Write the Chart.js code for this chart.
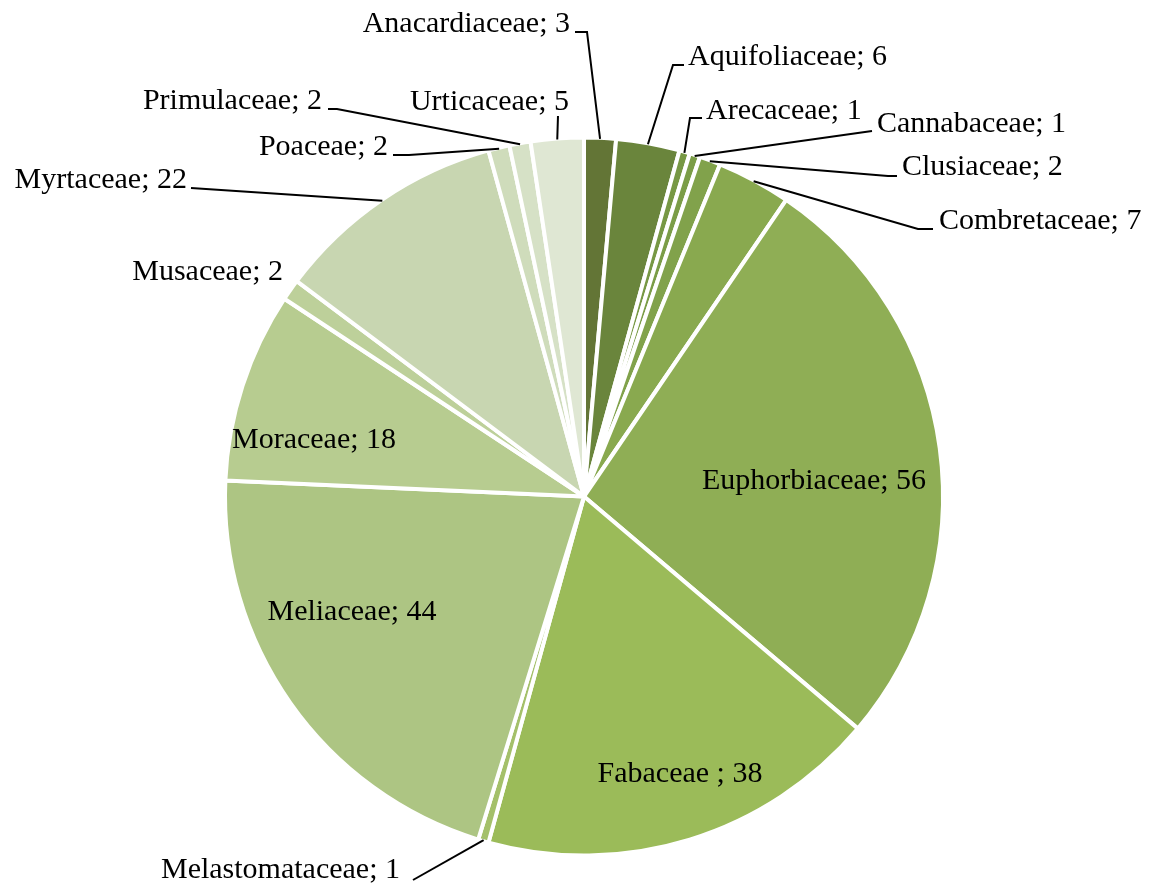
<!DOCTYPE html>
<html>
<head>
<meta charset="utf-8">
<script src="https://cdn.jsdelivr.net/npm/chart.js@4"></script>
<style>
  html, body { margin: 0; padding: 0; background: #fff; }
  #wrap { width: 1153px; height: 883px; }
</style>
</head>
<body>
<div id="wrap"><canvas id="pie" width="1153" height="883"></canvas></div>
<script>
const families = ['Anacardiaceae', 'Aquifoliaceae', 'Arecaceae', 'Cannabaceae', 'Clusiaceae',
  'Combretaceae', 'Euphorbiaceae', 'Fabaceae ', 'Melastomataceae', 'Meliaceae', 'Moraceae',
  'Musaceae', 'Myrtaceae', 'Poaceae', 'Primulaceae', 'Urticaceae'];
const counts = [3, 6, 1, 1, 2, 7, 56, 38, 1, 44, 18, 2, 22, 2, 2, 5];
const sliceColors = ['#637536', '#6a853c', '#779844', '#7b9d47', '#81a24b', '#89a94f', '#8fae55',
  '#9bbb59', '#a4c06a', '#adc583', '#b7cc90', '#bdd09a', '#c8d6b1', '#cfdcbb', '#d6e1c6', '#dfe7d3'];

// label placement (Excel-style manual layout): text anchor + leader elbow, leader ends on slice edge
const FONT = '30px "Liberation Serif"';
const labelLayout = [
  { x: 570, y: 32, align: 'right', line: [[575, 32], [587, 32]] },
  { x: 688, y: 65, align: 'left', line: [[684, 65], [673, 65]] },
  { x: 706, y: 119, align: 'left', line: [[702, 118], [690, 118]] },
  { x: 877, y: 132, align: 'left', line: [[872, 131]] },
  { x: 902, y: 175, align: 'left', line: [[897, 176], [888, 176]] },
  { x: 939, y: 229, align: 'left', line: [[933, 229], [918, 229]] },
  { x: 814, y: 489, align: 'center' },
  { x: 680, y: 782, align: 'center' },
  { x: 400, y: 878, align: 'right', line: [[413, 880]] },
  { x: 352, y: 620, align: 'center' },
  { x: 314, y: 448, align: 'center' },
  { x: 283, y: 280, align: 'right' },
  { x: 187, y: 188, align: 'right', line: [[191, 188]] },
  { x: 388, y: 155, align: 'right', line: [[393, 155], [409, 155]] },
  { x: 322, y: 109, align: 'right', line: [[328, 109], [337, 109]] },
  { x: 569, y: 110, align: 'right', line: [[558, 116]] }
];

const labelPlugin = {
  id: 'sliceLabels',
  afterDatasetsDraw(chart) {
    const ctx = chart.ctx;
    const arcs = chart.getDatasetMeta(0).data;
    ctx.save();
    ctx.font = FONT;
    ctx.fillStyle = '#000';
    ctx.strokeStyle = '#000';
    ctx.lineWidth = 2;
    ctx.textBaseline = 'alphabetic';
    arcs.forEach((arc, i) => {
      const lay = labelLayout[i];
      const p = arc.getProps(['x', 'y', 'startAngle', 'endAngle', 'outerRadius'], true);
      if (lay.line) {
        const mid = (p.startAngle + p.endAngle) / 2;
        const ex = p.x + Math.cos(mid) * (p.outerRadius - 1);
        const ey = p.y + Math.sin(mid) * (p.outerRadius - 1);
        ctx.beginPath();
        ctx.moveTo(lay.line[0][0], lay.line[0][1]);
        lay.line.slice(1).forEach(pt => ctx.lineTo(pt[0], pt[1]));
        ctx.lineTo(ex, ey);
        ctx.stroke();
      }
      ctx.textAlign = lay.align;
      ctx.fillText(families[i] + '; ' + counts[i], lay.x, lay.y);
    });
    ctx.restore();
  }
};

new Chart(document.getElementById('pie'), {
  type: 'pie',
  data: {
    labels: families,
    datasets: [{
      data: counts,
      backgroundColor: sliceColors,
      borderColor: '#ffffff',
      borderWidth: 4
    }]
  },
  options: {
    responsive: false,
    animation: false,
    layout: { padding: { top: 135, bottom: 25, left: 223, right: 208 } },
    plugins: {
      legend: { display: false },
      tooltip: { enabled: false }
    }
  },
  plugins: [labelPlugin]
});
</script>
</body>
</html>
